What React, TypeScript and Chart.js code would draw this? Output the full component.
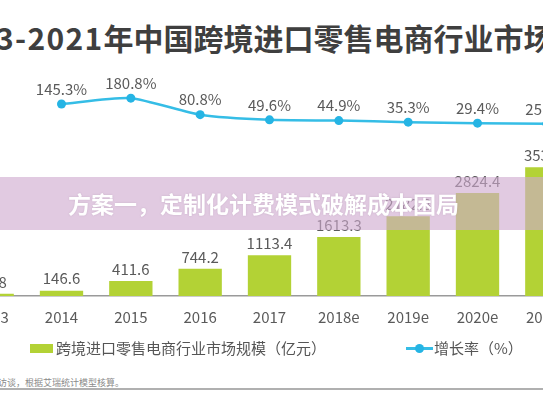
import React, { useEffect, useRef } from "react";
import { Chart, registerables } from "chart.js";

Chart.register(...registerables);

// ---- data ----
const years = ["2013", "2014", "2015", "2016", "2017", "2018e", "2019e", "2020e", "2021e"];
const marketSize = [59.8, 146.6, 411.6, 744.2, 1113.4, 1613.3, 2182.8, 2824.4, 3530.5];
const growthRate: (number | null)[] = [null, 145.3, 180.8, 80.8, 49.6, 44.9, 35.3, 29.4, 25.0];
const titleYears = "2013-2021";
const titleText = "年中国跨境进口零售电商行业市场规模";
const barLegend = "跨境进口零售电商行业市场规模（亿元）";
const lineLegend = "增长率（%）";
const footnote = "访谈，根据艾瑞统计模型核算。";
const bannerText = "方案一，定制化计费模式破解成本困局";

const BAR_COLOR = "#b3d235";
const LINE_COLOR = "#35bde6";
const POINT_COLOR = "#25b4e4";
const LABEL_COLOR = "#5a5a5a";
const FONT = '"Noto Sans CJK SC", "Noto Sans", sans-serif';

const valueLabels = {
  id: "valueLabels",
  afterDatasetsDraw(chart: any) {
    const ctx = chart.ctx;
    ctx.save();
    ctx.font = `15px ${FONT}`;
    ctx.fillStyle = LABEL_COLOR;
    ctx.textAlign = "center";
    ctx.textBaseline = "middle";
    const barMeta = chart.getDatasetMeta(0);
    barMeta.data.forEach((el: any, i: number) => {
      ctx.fillText(marketSize[i].toFixed(1), el.x, el.y - 12);
    });
    const lineMeta = chart.getDatasetMeta(1);
    lineMeta.data.forEach((el: any, i: number) => {
      const v = growthRate[i];
      if (v === null || v === undefined) return;
      ctx.fillText(v.toFixed(1) + "%", el.x, el.y - 15);
    });
    ctx.restore();
  },
};

export default function App() {
  const canvasRef = useRef<HTMLCanvasElement | null>(null);

  useEffect(() => {
    if (!canvasRef.current) return;
    const chart = new Chart(canvasRef.current, {
      type: "bar",
      data: {
        labels: years,
        datasets: [
          {
            type: "bar",
            label: barLegend,
            data: marketSize,
            backgroundColor: BAR_COLOR,
            barPercentage: 0.625,
            categoryPercentage: 1,
            yAxisID: "y",
            order: 2,
          },
          {
            type: "line",
            label: lineLegend,
            data: growthRate,
            borderColor: LINE_COLOR,
            borderWidth: 2.5,
            pointRadius: 4.5,
            pointBackgroundColor: POINT_COLOR,
            pointBorderWidth: 0,
            tension: 0.2,
            yAxisID: "y1",
            order: 1,
          },
        ],
      },
      options: {
        responsive: false,
        animation: false,
        layout: { padding: { top: 60, left: 0, right: 0, bottom: 0 } },
        plugins: {
          legend: { display: false },
          tooltip: { enabled: false },
          title: { display: false },
        },
        scales: {
          x: {
            offset: true,
            grid: { display: false, drawTicks: false },
            border: { display: true, color: "#9a9a9a", width: 1.5 },
            ticks: {
              color: LABEL_COLOR,
              font: { family: FONT, size: 15 },
              padding: 12,
            },
          },
          y: { display: false, min: 0, max: 6466 },
          y1: { display: false, min: -1018, max: 412 },
        },
      },
      plugins: [valueLabels],
    });
    return () => chart.destroy();
  }, []);

  return (
    <div
      style={{
        position: "fixed",
        left: 0,
        top: 0,
        width: 543,
        height: 408,
        overflow: "hidden",
        background: "#ffffff",
        fontFamily: FONT,
      }}
    >
      <div
        style={{
          position: "absolute",
          left: -61,
          top: 22,
          fontSize: 30,
          lineHeight: "30px",
          fontWeight: 700,
          color: "#3f3f3f",
          whiteSpace: "nowrap",
        }}
      >
        <span style={{ letterSpacing: 1.3 }}>{titleYears}</span>
        {titleText}
      </div>
      <canvas
        ref={canvasRef}
        width={633}
        height={338}
        style={{ position: "absolute", left: -47, top: 0, width: 633, height: 338 }}
      />
      {/* legend */}
      <div style={{ position: "absolute", left: 30, top: 344, width: 23, height: 9, background: BAR_COLOR }} />
      <div
        style={{
          position: "absolute",
          left: 56,
          top: 339,
          fontSize: 15,
          lineHeight: "18px",
          color: "#555",
          whiteSpace: "nowrap",
        }}
      >
        {barLegend}
      </div>
      <div style={{ position: "absolute", left: 406, top: 347, width: 27, height: 2.5, background: LINE_COLOR }} />
      <div
        style={{
          position: "absolute",
          left: 415,
          top: 344,
          width: 9,
          height: 9,
          borderRadius: "50%",
          background: POINT_COLOR,
        }}
      />
      <div
        style={{
          position: "absolute",
          left: 434,
          top: 339,
          fontSize: 15,
          lineHeight: "18px",
          color: "#555",
          whiteSpace: "nowrap",
        }}
      >
        {lineLegend}
      </div>
      {/* footnote */}
      <div
        style={{
          position: "absolute",
          left: -2,
          top: 377,
          fontSize: 9,
          lineHeight: "11px",
          color: "#8a8a8a",
          whiteSpace: "nowrap",
        }}
      >
        {footnote}
      </div>
      <div style={{ position: "absolute", left: 0, top: 388, width: 543, height: 2, background: "#b0b0b0" }} />
      {/* banner overlay */}
      <div
        style={{
          position: "absolute",
          left: 0,
          top: 177,
          width: 543,
          height: 53,
          background: "rgba(207,170,207,0.62)",
        }}
      >
        <div
          style={{
            position: "absolute",
            left: 68,
            top: 0,
            fontSize: 23,
            lineHeight: "53px",
            fontWeight: 700,
            color: "#ffffff",
            whiteSpace: "nowrap",
            textShadow: "0 0 2px rgba(120,90,120,0.25)",
          }}
        >
          {bannerText}
        </div>
      </div>
    </div>
  );
}
